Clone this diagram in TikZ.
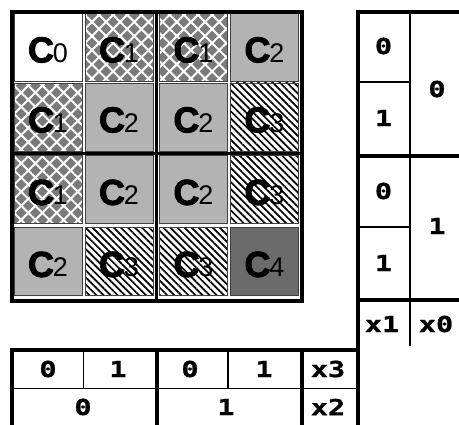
\documentclass[tikz,border=0pt]{standalone}
\usepackage{fontspec}
\setmainfont{Liberation Sans}
\newfontfamily\heavyfont{Liberation Sans Bold}[FakeBold=2.5]
\newfontfamily\pixfont{DejaVu Sans Mono Bold}[FakeStretch=1.3,FakeBold=1]
\usetikzlibrary{patterns.meta}
\definecolor{cellgray}{HTML}{B3B3B3}
\definecolor{celldark}{HTML}{6B6B6B}
\definecolor{latticegray}{HTML}{7A7A7A}
\tikzset{
  cellbox/.style={rectangle,draw=black!75,line width=0.8pt,minimum width=68pt,minimum height=68pt,inner sep=0pt,text height=31pt},
  blank/.style={cellbox,fill=white},
  lattice/.style={cellbox,preaction={fill=latticegray},pattern={Hatch[angle=45,distance=10pt,line width=2pt]},pattern color=white},
  midgray/.style={cellbox,fill=cellgray},
  stripes/.style={cellbox,preaction={fill=white},pattern={Lines[angle=-45,distance=5pt,line width=1.7pt]},pattern color=black},
  darkgray/.style={cellbox,fill=celldark},
  frame/.style={line width=4pt},
  rule/.style={line width=1.8pt},
  digit/.style={font=\pixfont\fontsize{22pt}{22pt}\selectfont,inner sep=0pt},
}
% a cell name: a heavy C with its index set beside it on the baseline
\newcommand\clab[1]{{\fontsize{36pt}{36pt}\heavyfont C}\kern-1pt{\fontsize{27pt}{27pt}\selectfont #1}}

\begin{document}
\begin{tikzpicture}[x=1pt,y=-1pt]
  \useasboundingbox (0,0) rectangle (459,425);
  \clip (0,0) rectangle (459,425);
  % the map cells, row by row
  \def\colx{{48,119,193.5,264.5}}
  \def\rowy{{47,117,189.5,261.5}}
  \foreach \s/\k [count=\i from 0] in {blank/0,lattice/1,lattice/1,midgray/2,
                                       lattice/1,midgray/2,midgray/2,stripes/3,
                                       lattice/1,midgray/2,midgray/2,stripes/3,
                                       midgray/2,stripes/3,stripes/3,darkgray/4} {
    \pgfmathtruncatemacro\c{mod(\i,4)}
    \pgfmathtruncatemacro\r{div(\i,4)}
    \pgfmathsetmacro\cx{\colx[\c]}
    \pgfmathsetmacro\cy{\rowy[\r]}
    \node[\s] (cell\r\c) at (\cx,\cy) {\clab{\k}};
  }
  % frame of the map and its quadrants
  \draw[frame] (12,12) rectangle (301.5,301);
  \draw[line width=3pt] (156.5,12) -- (156.5,301);
  \draw[line width=3pt] (12,154) -- (301.5,154);
  % row labels on the right
  \draw[frame] (470,12) -- (358,12) -- (358,425);
  \draw[frame] (358,156) -- (470,156);
  \draw[frame] (358,300) -- (470,300);
  \draw[rule] (410,12) -- (410,346);
  \draw[rule] (358,82) -- (410,82);
  \draw[rule] (358,227) -- (410,227);
  \node[digit] (ra1) at (383.5,46) {0};
  \node[digit] (ra2) at (383.5,118) {1};
  \node[digit] (ra3) at (383.5,191) {0};
  \node[digit] (ra4) at (383.5,263) {1};
  \node[digit] (rb1) at (437,89) {0};
  \node[digit] (rb2) at (437,226) {1};
  \node[digit] (rx1) at (382,324) {x1};
  \node[digit] (rx0) at (436,324) {x0};
  % column labels below
  \draw[frame] (12,425) -- (12,350) -- (358,350);
  \draw[rule] (12,388.5) -- (358,388.5);
  \draw[rule] (83.5,350) -- (83.5,388.5);
  \draw[rule] (228,350) -- (228,388.5);
  \draw[frame] (156.5,350) -- (156.5,425);
  \draw[frame] (302,350) -- (302,425);
  \node[digit] (ba1) at (48,369) {0};
  \node[digit] (ba2) at (118,369) {1};
  \node[digit] (ba3) at (190,369) {0};
  \node[digit] (ba4) at (264,369) {1};
  \node[digit] (bx3) at (328,369) {x3};
  \node[digit] (bb1) at (83,407) {0};
  \node[digit] (bb2) at (226,407) {1};
  \node[digit] (bx2) at (328,407) {x2};
\end{tikzpicture}
\end{document}
